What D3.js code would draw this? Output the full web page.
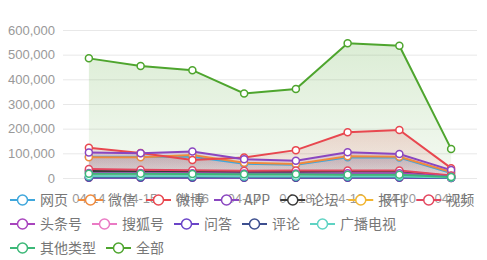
<!DOCTYPE html>
<html>
<head>
<meta charset="utf-8">
<script src="https://cdn.jsdelivr.net/npm/d3@7"></script>
<style>
  body { margin: 0; background: #fff; }
  svg { font-family: "Noto Sans CJK SC", "Noto Sans", sans-serif; }
</style>
</head>
<body>
<svg id="chart"></svg>
<script>
const dates = ['04-14', '04-15', '04-16', '04-17', '04-18', '04-19', '04-20', '04-21'];
const yTicks = [0, 100000, 200000, 300000, 400000, 500000, 600000];

const seriesNames = ['网页', '微信', '微博', 'APP', '论坛', '报刊', '视频',
  '头条号', '搜狐号', '问答', '评论', '广播电视', '其他类型', '全部'];
const seriesColors = ['#3fa7dc', '#f08a3c', '#e8474f', '#8a46c0', '#3a3a3a', '#f2b531', '#e3475f',
  '#a844bd', '#ea7ac4', '#6a44c8', '#3d4f8f', '#5fd3c3', '#3cb878', '#4ea52e'];

const web = [86000, 86000, 86000, 58000, 54000, 84000, 83000, 20000];
const wechat = [84000, 84000, 93000, 62000, 57000, 88000, 86000, 24000];
const weibo = [123000, 101000, 73000, 83000, 113000, 185000, 195000, 40000];
const app = [103000, 100000, 107000, 76000, 70000, 104000, 97000, 32000];
const forum = [28000, 27000, 25000, 24000, 24000, 26000, 27000, 8000];
const press = [1500, 1400, 1500, 1300, 1200, 1400, 1500, 400];
const video = [36000, 33000, 31000, 29000, 30000, 30000, 30000, 10000];
const toutiao = [20000, 20000, 19000, 18000, 18000, 19000, 19000, 5000];
const sohu = [800, 900, 800, 700, 700, 800, 900, 200];
const qa = [1200, 1100, 1200, 1000, 1000, 1100, 1200, 300];
const comment = [3000, 3000, 2800, 2600, 2500, 2800, 2900, 800];
const broadcast = [7000, 7000, 7000, 6000, 6000, 6000, 6000, 2000];
const other = [17000, 17000, 16000, 15000, 15000, 13000, 13000, 4000];
const total = [485000, 454000, 437000, 343000, 361000, 546000, 536000, 118000];

const seriesValues = [web, wechat, weibo, app, forum, press, video,
  toutiao, sohu, qa, comment, broadcast, other, total];

const width = 487, height = 260;
const margin = { top: 30, right: 10, bottom: 82, left: 63 };

const svg = d3.select('#chart')
  .attr('width', width)
  .attr('height', height);

const x = d3.scaleBand()
  .domain(dates)
  .range([margin.left, width - margin.right]);

const y = d3.scaleLinear()
  .domain([0, 600000])
  .range([height - margin.bottom, margin.top]);

// gradients for the area fills
const defs = svg.append('defs');
seriesColors.forEach((c, i) => {
  const g = defs.append('linearGradient')
    .attr('id', 'grad' + i)
    .attr('x1', 0).attr('y1', 0).attr('x2', 0).attr('y2', 1);
  g.append('stop').attr('offset', '0%').attr('stop-color', c).attr('stop-opacity', 0.2);
  g.append('stop').attr('offset', '100%').attr('stop-color', c).attr('stop-opacity', 0.06);
});

// grid + y axis
svg.append('g')
  .attr('transform', `translate(${margin.left},0)`)
  .call(d3.axisLeft(y).tickValues(yTicks).tickSize(-(width - margin.left - margin.right))
    .tickFormat(d3.format(',')).tickPadding(8))
  .call(g => g.select('.domain').remove())
  .call(g => g.selectAll('.tick line').attr('stroke', '#e8e8e8'))
  .call(g => g.selectAll('.tick text').attr('fill', '#999').style('font-size', '13px'));

// x axis labels (they sit under the legend, as in the original)
svg.append('g')
  .attr('transform', `translate(0,${height - margin.bottom})`)
  .call(d3.axisBottom(x).tickSize(0).tickPadding(16))
  .call(g => g.select('.domain').remove())
  .call(g => g.selectAll('.tick text').attr('fill', '#999').style('font-size', '13px'));

const cx = d => x(d) + x.bandwidth() / 2;

const area = d3.area()
  .x((d, i) => cx(dates[i]))
  .y0(y(0))
  .y1(d => y(d));

const line = d3.line()
  .x((d, i) => cx(dates[i]))
  .y(d => y(d));

const plot = svg.append('g');

seriesValues.forEach((vals, i) => {
  plot.append('path')
    .datum(vals)
    .attr('d', area)
    .attr('fill', `url(#grad${i})`);
});

seriesValues.forEach((vals, i) => {
  plot.append('path')
    .datum(vals)
    .attr('d', line)
    .attr('fill', 'none')
    .attr('stroke', seriesColors[i])
    .attr('stroke-width', 2);
});

seriesValues.forEach((vals, i) => {
  plot.append('g')
    .selectAll('circle')
    .data(vals)
    .enter()
    .append('circle')
      .attr('cx', (d, j) => cx(dates[j]))
      .attr('cy', d => y(d))
      .attr('r', 3.5)
      .attr('fill', '#fff')
      .attr('stroke', seriesColors[i])
      .attr('stroke-width', 1.5);
});

// legend, wrapped in rows
const legend = svg.append('g');
const rowY = [200, 224, 248];
let lx = 10, row = 0;
seriesNames.forEach((name, i) => {
  const item = legend.append('g');
  const txt = item.append('text')
    .attr('x', 30)
    .attr('dy', '0.35em')
    .attr('fill', '#777')
    .style('font-size', '14px')
    .text(name);
  const w = 30 + txt.node().getComputedTextLength();
  if (lx + w > width - 8) { row += 1; lx = 10; }
  item.attr('transform', `translate(${lx},${rowY[row]})`);
  item.insert('line', 'text')
    .attr('x1', 0).attr('x2', 25)
    .attr('stroke', seriesColors[i])
    .attr('stroke-width', 2);
  item.insert('circle', 'text')
    .attr('cx', 12.5)
    .attr('r', 5)
    .attr('fill', '#fff')
    .attr('stroke', seriesColors[i])
    .attr('stroke-width', 1.5);
  lx += w + 10;
});
</script>
</body>
</html>
